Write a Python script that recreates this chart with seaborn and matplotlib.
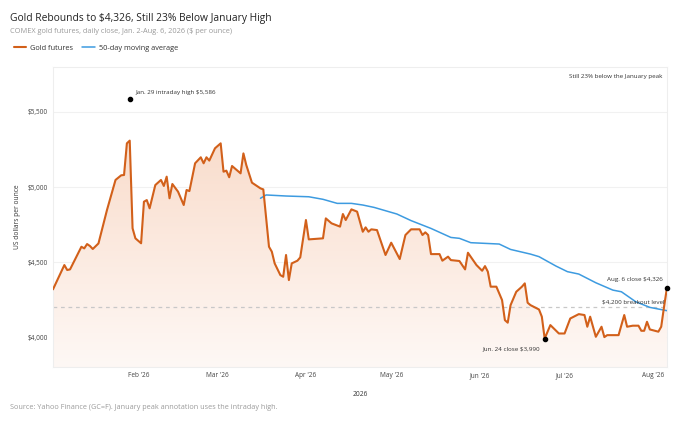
import numpy as np
import pandas as pd
import seaborn as sns
import matplotlib
matplotlib.use("Agg")
import matplotlib.pyplot as plt
import matplotlib.dates as mdates
from matplotlib.colors import LinearSegmentedColormap

# Gold futures daily close (days after Jan 2, 2026)
gold_days = [0, 4, 5, 6, 10, 11, 12, 13, 14, 16, 19, 22, 24, 25, 26, 27, 28, 29, 31,
             32, 33, 34, 36, 38, 39, 40, 41, 42, 44, 46, 47, 48, 50, 52, 53, 54, 55,
             57, 59, 60, 61, 62, 63, 66, 67, 68, 70, 73, 74, 76, 77, 78, 80, 81, 82,
             83, 84, 86, 87, 89, 90, 95, 96, 98, 101, 102, 103, 105, 107, 109, 110,
             111, 112, 114, 117, 119, 122, 124, 126, 129, 130, 131, 132, 133, 136,
             137, 139, 140, 143, 145, 146, 149, 151, 152, 153, 154, 156, 158, 159,
             160, 161, 163, 165, 166, 167, 168, 171, 172, 173, 175, 178, 180, 182,
             185, 187, 188, 189, 191, 193, 194, 195, 199, 201, 202, 204, 206, 207,
             208, 209, 210, 213, 214, 215, 216]
gold_close = [4318, 4480, 4447, 4451, 4602, 4591, 4620, 4607, 4587, 4624, 4847, 5047,
              5078, 5080, 5291, 5309, 4725, 4658, 4625, 4902, 4913, 4858, 5013, 5047,
              5007, 5069, 4925, 5020, 4969, 4880, 4980, 4973, 5158, 5198, 5158, 5198,
              5176, 5258, 5291, 5102, 5109, 5065, 5140, 5091, 5224, 5147, 5029, 4991,
              4984, 4602, 4569, 4491, 4413, 4402, 4547, 4380, 4491, 4509, 4531, 4780,
              4651, 4658, 4791, 4758, 4736, 4820, 4780, 4851, 4836, 4702, 4731, 4702,
              4718, 4713, 4547, 4629, 4520, 4680, 4718, 4718, 4680, 4698, 4680, 4553,
              4553, 4509, 4536, 4513, 4507, 4451, 4562, 4480, 4442, 4473, 4436, 4336,
              4336, 4247, 4113, 4096, 4213, 4302, 4336, 4358, 4229, 4213, 4184, 4136,
              3990, 4080, 4024, 4024, 4124, 4153, 4147, 4069, 4136, 4002, 4069, 4000,
              4013, 4013, 4147, 4069, 4076, 4076, 4042, 4042, 4102, 4051, 4036, 4069,
              4202, 4326]

# 50-day moving average
ma_days = [73, 75, 82, 90, 95, 100, 105, 109, 113, 121, 126, 133, 140, 143, 147, 157,
           161, 168, 171, 177, 181, 185, 191, 197, 200, 205, 210, 216]
ma_values = [4925, 4947, 4940, 4935, 4918, 4891, 4891, 4880, 4864, 4820, 4776, 4724,
             4664, 4658, 4629, 4620, 4584, 4553, 4536, 4473, 4436, 4420, 4362, 4313,
             4302, 4236, 4198, 4176]

start = pd.Timestamp("2026-01-02")
gold = pd.DataFrame({"date": start + pd.to_timedelta(gold_days, unit="D"), "close": gold_close})
ma = pd.DataFrame({"date": start + pd.to_timedelta(ma_days, unit="D"), "ma": ma_values})

ORANGE = "#d2601a"
BLUE = "#3d9be0"

sns.set_theme(style="white")
plt.rcParams["font.family"] = ["Open Sans", "DejaVu Sans"]

fig = plt.figure(figsize=(7, 4.21), dpi=100)
ax = fig.add_axes([0.0757, 0.128, 0.877, 0.713])

y_min, y_max = 3800, 5800
x0, x1 = pd.Timestamp("2026-01-02"), pd.Timestamp("2026-08-06")

# gradient fill under the gold curve
poly = ax.fill_between(gold["date"], gold["close"], y_min, facecolor="none", edgecolor="none")
cmap = LinearSegmentedColormap.from_list("peach", ["#fef8f5", "#f9dccb"])
grad = np.linspace(0, 1, 256).reshape(-1, 1)
im = ax.imshow(grad, cmap=cmap, aspect="auto", origin="lower",
               extent=[mdates.date2num(x0), mdates.date2num(x1), y_min, 5350], zorder=1)
im.set_clip_path(poly.get_paths()[0], transform=ax.transData)

ax.axhline(4200, color="#c8c8c8", lw=0.9, ls=(0, (3, 3)), zorder=2)

sns.lineplot(data=gold, x="date", y="close", ax=ax, color=ORANGE, lw=1.5, zorder=4,
             label="Gold futures", legend=False)
sns.lineplot(data=ma, x="date", y="ma", ax=ax, color=BLUE, lw=1.1, zorder=3,
             label="50-day moving average", legend=False)

ax.set_xlim(x0, x1)
ax.set_ylim(y_min, y_max)
ax.set_yticks([4000, 4500, 5000, 5500])
ax.set_yticklabels(["$4,000", "$4,500", "$5,000", "$5,500"])
ax.xaxis.set_major_locator(mdates.MonthLocator(bymonth=range(2, 9)))
ax.xaxis.set_major_formatter(mdates.DateFormatter("%b '%y"))
ax.tick_params(axis="both", labelsize=4.7, colors="#444444", length=0, pad=3.5)
ax.grid(axis="y", color="#f1f1f1", lw=0.8)
for s in ax.spines.values():
    s.set_color("#eeeeee")
    s.set_linewidth(0.8)

ax.set_xlabel("2026", fontsize=4.8, color="#333333", labelpad=9)
ax.set_ylabel("US dollars per ounce", fontsize=4.8, color="#333333", labelpad=5)

# annotations
ann = dict(fontsize=4.5, color="#333333", zorder=6)
jan29 = pd.Timestamp("2026-01-29")
ax.scatter([jan29], [5586], s=9, color="black", zorder=6)
ax.text(jan29 + pd.Timedelta(days=2), 5630, "Jan. 29 intraday high $5,586", ha="left", va="center", **ann)

jun24 = pd.Timestamp("2026-06-24")
ax.scatter([jun24], [3990], s=9, color="black", zorder=6)
ax.text(jun24 - pd.Timedelta(days=1.5), 3925, "Jun. 24 close $3,990", ha="right", va="center", **ann)

aug6 = pd.Timestamp("2026-08-06")
ax.scatter([aug6], [4326], s=9, color="black", zorder=6, clip_on=False)
ax.text(aug6 - pd.Timedelta(days=1.5), 4385, "Aug. 6 close $4,326", ha="right", va="center", **ann)
ax.text(aug6 - pd.Timedelta(days=1), 4237, "$4,200 breakout level", ha="right", va="center", **ann)
ax.text(0.993, 0.975, "Still 23% below the January peak", transform=ax.transAxes,
        ha="right", va="top", **ann)

# title block and legend
fig.text(0.0143, 0.957, "Gold Rebounds to $4,326, Still 23% Below January High",
         fontsize=7.4, color="#222222", va="center")
fig.text(0.0143, 0.924, "COMEX gold futures, daily close, Jan. 2-Aug. 6, 2026 ($ per ounce)",
         fontsize=5.3, color="#9a9a9a", va="center")
fig.legend(handles=ax.get_lines()[1:3], loc="center left", bbox_to_anchor=(0.010, 0.886),
           ncol=2, frameon=False, fontsize=5.3, handlelength=1.7, handletextpad=0.5,
           columnspacing=1.3, labelcolor="#333333")
fig.text(0.0143, 0.033, "Source: Yahoo Finance (GC=F). January peak annotation uses the intraday high.",
         fontsize=5.2, color="#9a9a9a", va="center")

fig.savefig("out.png", dpi=100)
